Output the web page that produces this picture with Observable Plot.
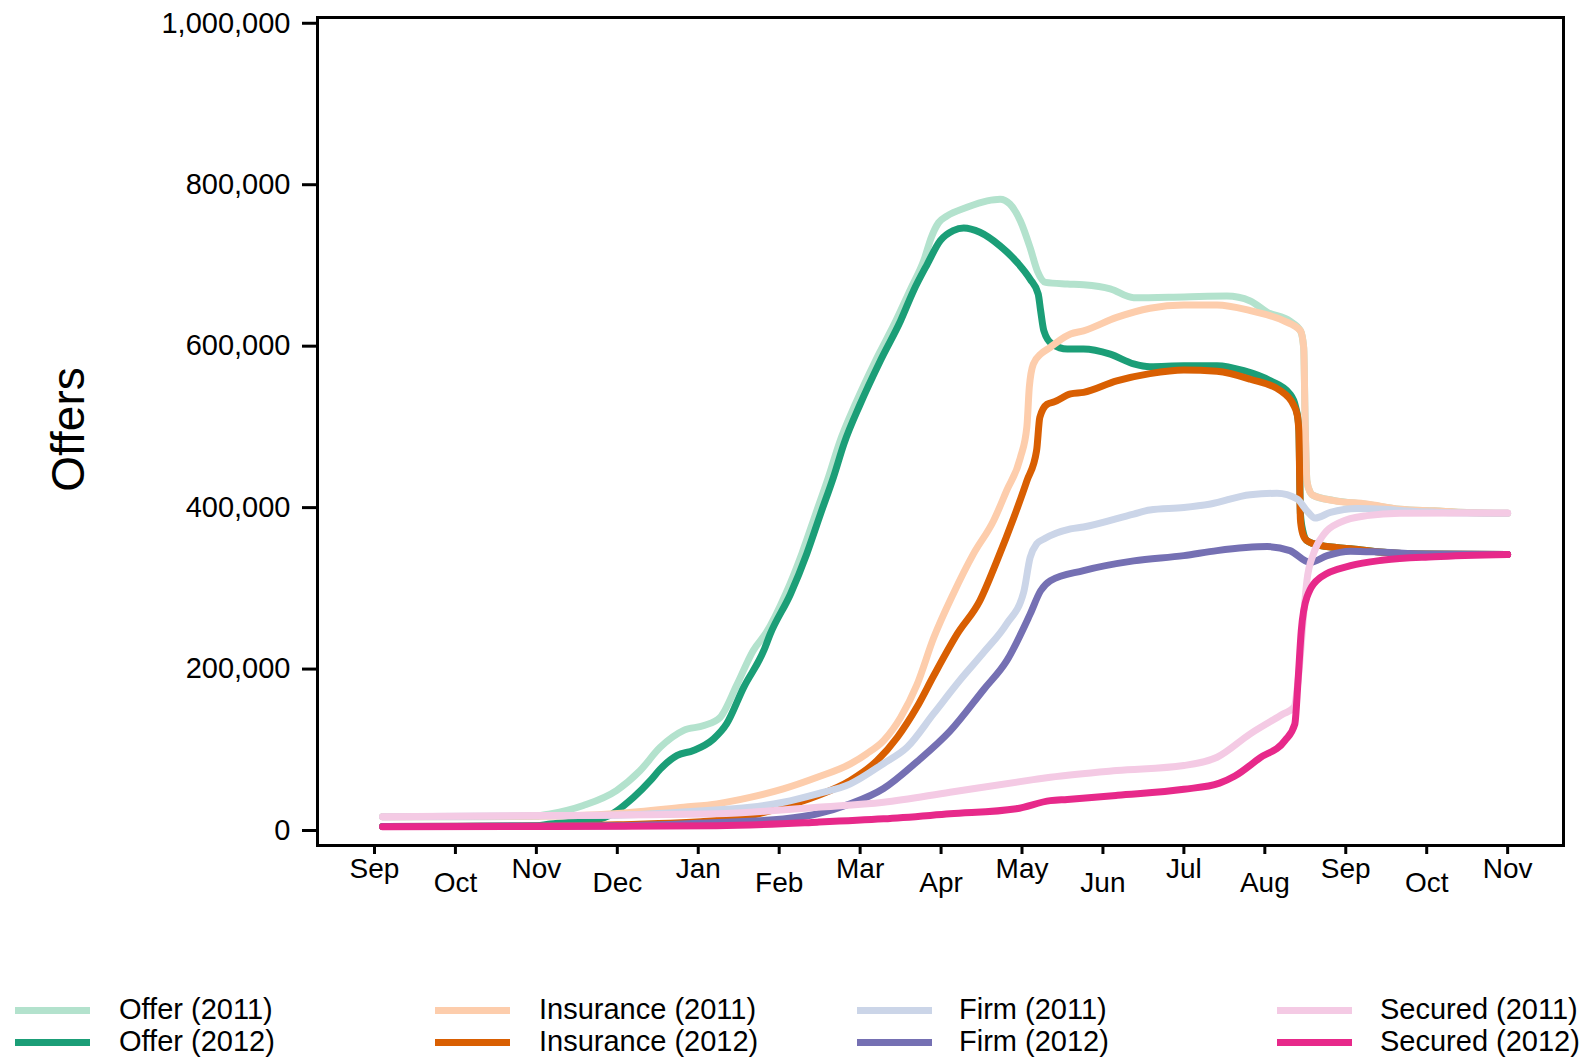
<!DOCTYPE html>
<html>
<head>
<meta charset="utf-8">
<script src="https://cdn.jsdelivr.net/npm/d3@7"></script>
<script src="https://cdn.jsdelivr.net/npm/@observablehq/plot@0.6"></script>
<style>
  html, body { margin: 0; padding: 0; background: white; }
  body { width: 1593px; height: 1057px; overflow: hidden; font-family: "Liberation Sans", Arial, Helvetica, sans-serif; }
  #chart { position: absolute; left: 0; top: 0; }
  #legend { position: absolute; left: 0; top: 0; width: 1593px; height: 1057px; pointer-events: none; }
  .sw { position: absolute; height: 7px; width: 75px; }
  .lb { position: absolute; font-size: 29px; line-height: 29px; color: black; white-space: nowrap; }
</style>
</head>
<body>
<div id="chart"></div>
<div id="legend"></div>
<script>
// ---- Axis labels / ticks ----
const monthLabels = ["Sep","Oct","Nov","Dec","Jan","Feb","Mar","Apr","May","Jun","Jul","Aug","Sep","Oct","Nov"];
const monthTicks = [0,1,2,3,4,5,6,7,8,9,10,11,12,13,14];
const yTicks = [0, 200000, 400000, 600000, 800000, 1000000];

// ---- Series: [month index from Sep 2011, number of offers] ----
const offer2011 = [[0.1,22000],[1.0,22000],[2.0,23000],[2.17,25600],[2.58,36000],[2.99,54500],[3.28,79000],[3.53,108000],[3.82,129000],[4.07,135000],[4.27,145000],[4.48,186000],[4.68,228000],[4.84,250000],[5.08,298000],[5.28,348000],[5.45,397000],[5.61,443000],[5.74,484000],[5.94,533000],[6.19,587000],[6.44,636000],[6.62,675000],[6.79,712000],[6.88,740000],[6.97,758000],[7.07,766000],[7.32,777000],[7.57,785000],[7.73,787000],[7.85,781000],[7.98,760000],[8.10,727000],[8.19,698000],[8.29,684000],[8.56,682000],[8.76,681000],[9.09,676000],[9.38,665000],[10.0,666000],[10.53,667000],[10.82,661000],[11.03,647000],[11.31,636000],[11.44,624000],[11.48,603000],[11.50,500000],[11.52,438000],[11.56,424000],[11.60,420000],[11.85,414000],[12.26,409000],[12.67,403000],[13.09,401000],[13.5,399000],[14.0,398000]];
const offer2012 = [[0.1,10000],[1.0,10000],[2.0,11000],[2.17,13000],[2.79,19400],[3.20,46000],[3.41,67000],[3.53,81000],[3.74,98000],[3.94,104000],[4.19,118500],[4.35,137000],[4.56,182000],[4.81,228000],[4.89,248500],[5.14,298000],[5.34,347600],[5.51,397000],[5.67,442500],[5.80,484000],[6.00,533000],[6.25,587000],[6.50,636500],[6.66,673700],[6.83,706700],[6.99,735600],[7.15,748000],[7.28,751300],[7.48,746000],[7.73,729000],[7.94,708700],[8.10,688000],[8.20,669600],[8.23,649000],[8.27,624000],[8.37,607700],[8.56,601500],[8.76,601500],[9.09,595000],[9.38,583000],[9.58,579600],[10.0,580800],[10.41,580800],[10.74,574600],[11.07,562000],[11.31,545700],[11.38,530000],[11.42,505000],[11.44,397000],[11.47,376000],[11.52,364000],[11.69,358000],[12.06,354000],[12.47,349600],[12.88,347600],[14.0,347000]];
const insurance2011 = [[0.1,22000],[2.0,22500],[3.0,26000],[3.82,33800],[4.23,38000],[4.64,46000],[5.05,56600],[5.47,71000],[5.88,87500],[6.08,100000],[6.29,116400],[6.50,145000],[6.70,185000],[6.91,244000],[7.15,298000],[7.40,347600],[7.65,389000],[7.81,426000],[7.98,467000],[8.06,505000],[8.09,554000],[8.14,583000],[8.23,595000],[8.35,603500],[8.43,609700],[8.60,620000],[8.76,624000],[9.17,640600],[9.58,652000],[10.0,656000],[10.41,656000],[10.82,649000],[11.23,636500],[11.44,624000],[11.48,603500],[11.50,500000],[11.52,438000],[11.56,424000],[11.60,420000],[11.85,413600],[12.26,409500],[12.67,403000],[13.09,401000],[13.5,399000],[14.0,398000]];
const insurance2012 = [[0.1,10000],[2.0,10500],[3.0,12000],[4.23,17300],[4.64,23500],[5.05,34000],[5.47,48000],[5.88,67000],[6.21,91600],[6.46,120500],[6.70,157600],[6.91,197000],[7.20,248500],[7.48,289800],[7.69,339000],[7.90,393000],[8.06,438000],[8.18,475500],[8.22,516800],[8.31,533000],[8.40,536000],[8.60,545800],[8.76,547700],[9.17,562000],[9.58,571000],[10.0,575500],[10.41,573800],[10.82,564000],[11.19,550000],[11.35,533000],[11.40,520000],[11.42,500000],[11.44,390000],[11.47,372000],[11.52,364000],[11.69,358000],[12.06,354000],[12.47,349600],[12.88,347600],[14.0,347000]];
const firm2011 = [[0.1,22000],[3.0,24000],[4.0,29000],[4.64,33800],[5.05,40000],[5.47,50400],[5.88,62800],[6.29,88000],[6.58,108000],[6.91,150000],[7.24,192000],[7.53,226000],[7.81,261000],[8.02,300000],[8.10,343000],[8.18,360000],[8.27,366000],[8.60,378600],[8.76,381000],[9.38,397000],[9.58,402000],[10.0,405000],[10.33,409500],[10.82,421000],[11.15,422700],[11.40,415700],[11.52,401000],[11.62,392000],[11.81,399000],[12.14,404000],[12.47,403000],[12.71,401000],[13.2,399000],[14.0,398000]];
const firm2012 = [[0.1,10000],[3.0,11000],[4.0,14000],[5.05,19400],[5.47,25600],[5.88,38000],[6.29,57000],[6.70,90000],[7.11,128000],[7.53,180000],[7.81,215000],[8.10,273000],[8.23,302000],[8.35,314500],[8.76,327000],[9.38,339000],[10.0,345500],[10.41,351700],[11.03,356700],[11.31,351700],[11.56,337000],[11.77,345500],[12.06,351000],[12.47,349600],[13.0,347600],[14.0,347000]];
const secured2011 = [[0.1,22000],[2.17,23500],[4.23,25600],[5.47,33800],[6.29,40000],[7.11,52400],[8.14,68000],[8.35,71000],[9.17,79300],[10.0,85500],[10.41,95700],[10.82,124700],[11.23,149500],[11.36,157600],[11.42,200000],[11.48,273000],[11.52,314500],[11.60,347600],[11.73,372000],[11.93,386700],[12.26,395000],[12.67,398000],[14.0,398400]];
const secured2012 = [[0.1,9500],[2.17,9900],[4.23,11000],[5.47,15300],[6.29,19400],[7.11,25600],[7.93,32000],[8.35,42000],[8.56,43500],[9.18,48600],[10.0,56000],[10.44,63700],[10.63,72500],[10.94,95000],[11.25,116600],[11.37,136700],[11.41,190000],[11.45,252000],[11.52,294000],[11.69,318600],[12.06,333000],[12.47,340000],[13.09,344000],[14.0,346800]];

const seriesNames = ["Offer (2011)","Offer (2012)","Insurance (2011)","Insurance (2012)","Firm (2011)","Firm (2012)","Secured (2011)","Secured (2012)"];
const seriesData = [offer2011, offer2012, insurance2011, insurance2012, firm2011, firm2012, secured2011, secured2012];
const seriesColors = ["#b3e2cd","#1b9e77","#fdcdac","#d95f02","#cbd5e8","#7570b3","#f4cae4","#e7298a"];

const rows = seriesNames.flatMap((name, i) => seriesData[i].map(([t, v]) => ({series: name, t, v})));

const lineMarks = seriesNames.map((name, i) =>
  Plot.line(rows.filter(d => d.series === name), {
    x: "t", y: "v", stroke: seriesColors[i], strokeWidth: 7,
    strokeLinecap: "round", strokeLinejoin: "round", curve: "monotone-x"
  })
);

const evenTicks = monthTicks.filter(d => d % 2 === 0);
const oddTicks = monthTicks.filter(d => d % 2 === 1);

const chart = Plot.plot({
  width: 1593,
  height: 900,
  marginLeft: 317,
  marginRight: 30,
  marginTop: 17,
  marginBottom: 55,
  x: {domain: [-0.704, 14.69], axis: null},
  y: {domain: [-13600, 1012100], axis: null},
  style: {fontFamily: "'Liberation Sans', Arial, Helvetica, sans-serif", fontSize: "29px", color: "black", background: "white", overflow: "visible"},
  marks: [
    ...lineMarks,
    Plot.frame({stroke: "black", strokeWidth: 3}),
    Plot.axisY({ticks: yTicks, tickSize: 15, tickPadding: 12, tickFormat: d3.format(","), fontSize: 29, strokeWidth: 3, label: null, dy: -4}),
    Plot.axisX({ticks: monthTicks, tickSize: 9, tickFormat: () => "", strokeWidth: 3, label: null}),
    Plot.text(evenTicks, {x: d => d, text: d => monthLabels[d], frameAnchor: "bottom", dy: 32, fontSize: 28}),
    Plot.text(oddTicks, {x: d => d, text: d => monthLabels[d], frameAnchor: "bottom", dy: 46, fontSize: 28}),
    Plot.text(["Offers"], {frameAnchor: "left", textAnchor: "middle", dx: -248, dy: -2, rotate: -90, fontSize: 46})
  ]
});
document.getElementById("chart").appendChild(chart);

// ---- Legend (HTML, below the plot) ----
const legendCols = [{sw: 15, tx: 119}, {sw: 435, tx: 539}, {sw: 857, tx: 959}, {sw: 1277, tx: 1380}];
const legendRowsY = [1010, 1042];
const legend = document.getElementById("legend");
seriesNames.forEach((name, i) => {
  const col = legendCols[Math.floor(i / 2)];
  const yc = legendRowsY[i % 2];
  const sw = document.createElement("div");
  sw.className = "sw";
  sw.style.left = col.sw + "px";
  sw.style.top = (yc - 3.5) + "px";
  sw.style.background = seriesColors[i];
  legend.appendChild(sw);
  const lb = document.createElement("div");
  lb.className = "lb";
  lb.style.left = col.tx + "px";
  lb.style.top = (yc - 15) + "px";
  lb.textContent = name;
  legend.appendChild(lb);
});
</script>
</body>
</html>
